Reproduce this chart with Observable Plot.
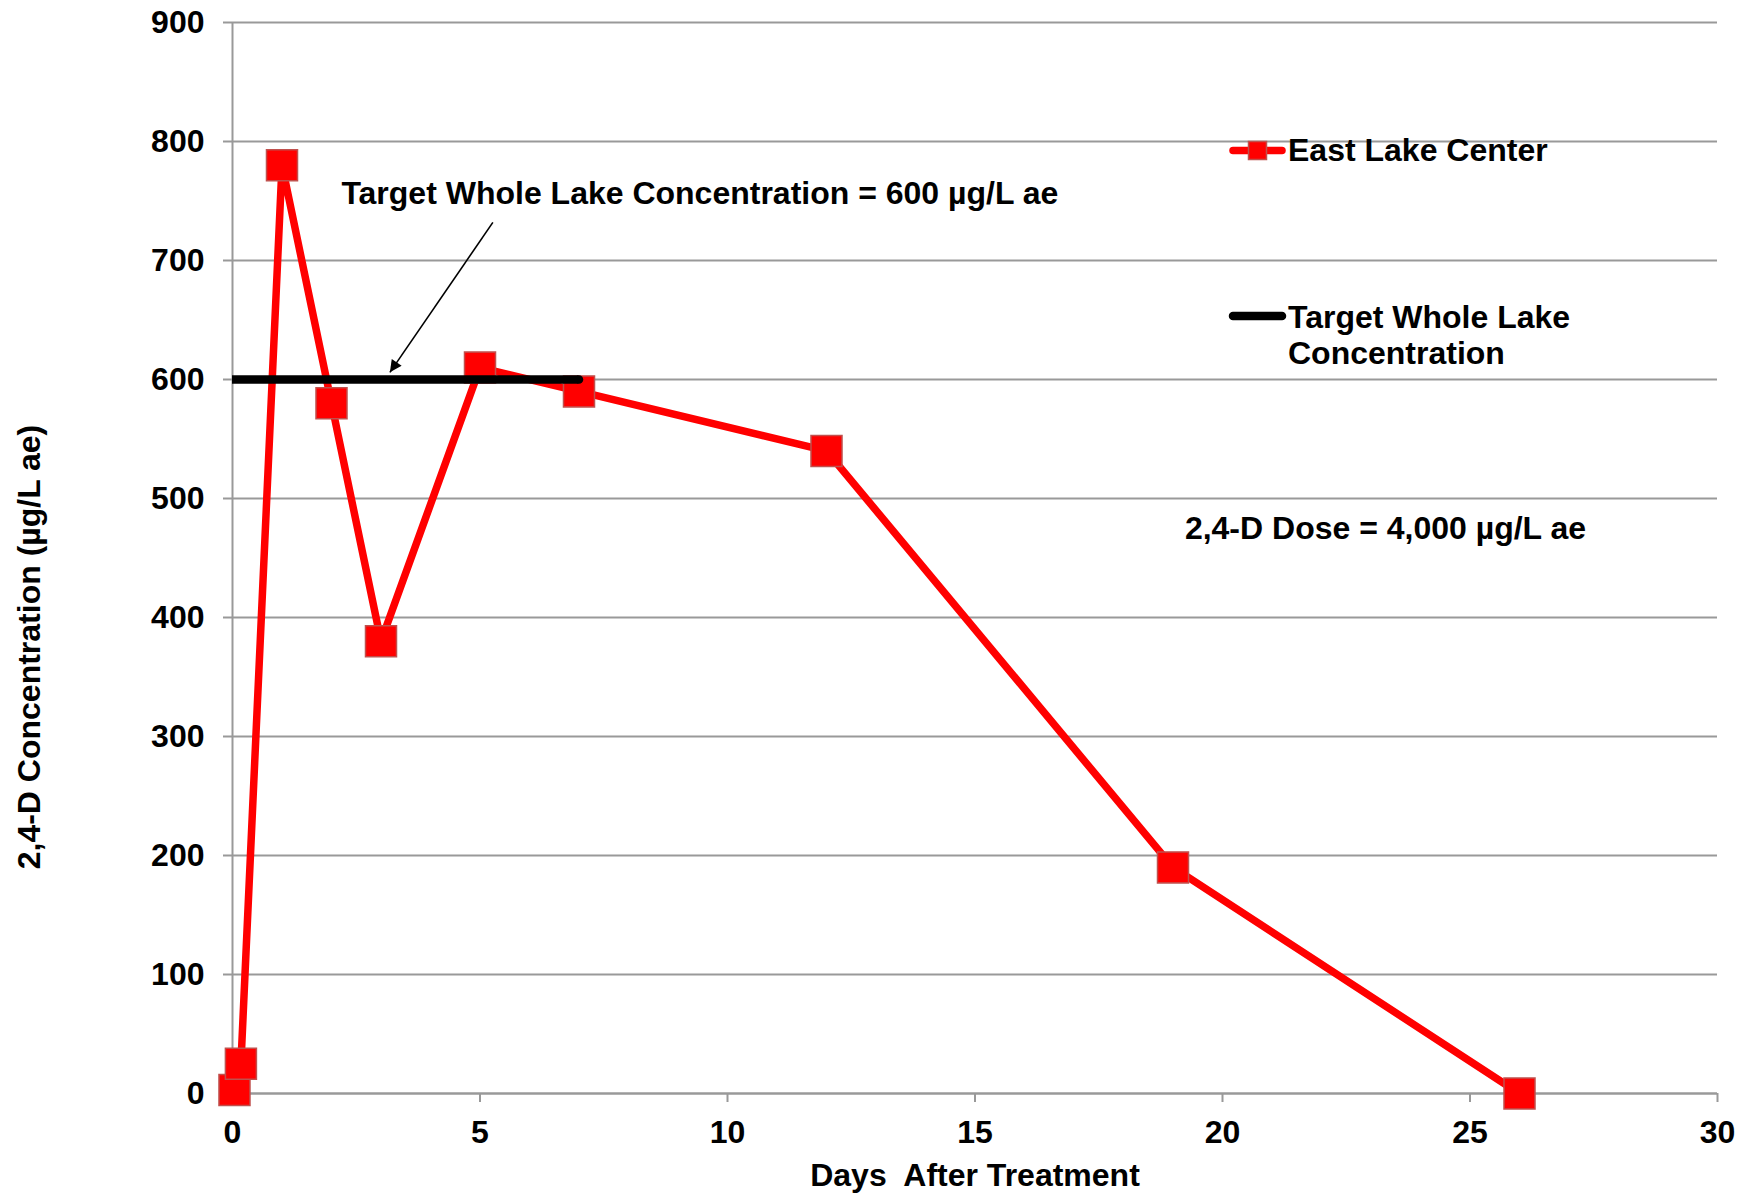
<!DOCTYPE html>
<html>
<head>
<meta charset="utf-8">
<script src="https://cdn.jsdelivr.net/npm/d3@7"></script>
<script src="https://cdn.jsdelivr.net/npm/@observablehq/plot@0.6"></script>
<style>
html, body { margin: 0; padding: 0; background: #ffffff; }
#chart { position: relative; width: 1752px; height: 1198px; }
</style>
</head>
<body>
<div id="chart"></div>
<script>
// ---- data ----
const days = [0.04, 0.17, 1, 2, 3, 5, 7, 12, 19, 26];
const concentration = [3, 25, 780, 580, 380, 610, 590, 540, 190, 0];
const targetDays = [0, 7];
const targetValue = 600;
const xTicks = [0, 5, 10, 15, 20, 25, 30];
const yTicks = [0, 100, 200, 300, 400, 500, 600, 700, 800, 900];
const seriesNames = ["East Lake Center", "Target Whole Lake Concentration"];
const xLabel = "Days\u00a0 After Treatment";
const yLabel = "2,4-D Concentration (\u00b5g/L ae)";
const targetNote = "Target Whole Lake Concentration = 600 \u00b5g/L ae";
const doseNote = "2,4-D Dose = 4,000 \u00b5g/L ae";
// annotation anchors (data units)
const targetNoteAt = {x: 2.2, y: 756};
const doseNoteAt = {x: 19.24, y: 475};
const arrowFrom = {x: 5.26, y: 732};
const arrowTo = {x: 3.18, y: 606};

const series = days.map((d, i) => ({day: d, value: concentration[i]}));

const FONT = "'Liberation Sans', Arial, Helvetica, sans-serif";
const GRID = "#999999";
const RED = "#ff0000";

const plot = Plot.plot({
  width: 1752,
  height: 1198,
  marginLeft: 232,
  marginRight: 35,
  marginTop: 22,
  marginBottom: 105,
  style: {fontFamily: FONT, fontWeight: "bold", fontSize: "32px", color: "black", background: "white", overflow: "visible"},
  x: {domain: [0, 30], ticks: xTicks},
  y: {domain: [0, 900], ticks: yTicks},
  marks: [
    Plot.gridY(yTicks, {stroke: GRID, strokeOpacity: 1, strokeWidth: 2}),
    Plot.ruleX([0], {stroke: GRID, strokeWidth: 2}),
    Plot.ruleY([0], {stroke: GRID, strokeWidth: 2}),
    Plot.axisY({ticks: yTicks, tickSize: 9, tickPadding: 19, stroke: GRID, strokeWidth: 2, fill: "black", fontSize: 32, fontWeight: "bold", label: null}),
    Plot.axisX({ticks: xTicks, tickSize: 9, tickPadding: 18, stroke: GRID, strokeWidth: 2, fill: "black", fontSize: 32, fontWeight: "bold", label: null}),
    Plot.text([xLabel], {frameAnchor: "bottom", dy: 82, textAnchor: "middle", lineAnchor: "middle", fontSize: 32, fontWeight: "bold", fill: "black"}),
    Plot.text([yLabel], {frameAnchor: "left", dx: -203, dy: 89, rotate: -90, textAnchor: "middle", lineAnchor: "middle", fontSize: 32, fontWeight: "bold", fill: "black"}),
    Plot.line(series, {x: "day", y: "value", stroke: RED, strokeWidth: 7.5, strokeLinejoin: "round"}),
    Plot.dot(series, {x: "day", y: "value", symbol: "square", r: 17.5, fill: RED, stroke: "#c0504d", strokeWidth: 1.5}),
    Plot.ruleY([targetValue], {x1: targetDays[0], x2: targetDays[1], stroke: "black", strokeWidth: 8.5, strokeLinecap: "butt"}),
    Plot.dot([targetValue], {x: () => targetDays[1], y: d => d, r: 4.25, fill: "black", stroke: null}),
    Plot.text([targetNote], {x: () => targetNoteAt.x, y: () => targetNoteAt.y, textAnchor: "start", lineAnchor: "middle", fontSize: 32, fontWeight: "bold", fill: "black"}),
    Plot.link([arrowFrom], {x1: "x", y1: "y", x2: () => arrowTo.x, y2: () => arrowTo.y, stroke: "black", strokeWidth: 1.6}),
    Plot.text([doseNote], {x: () => doseNoteAt.x, y: () => doseNoteAt.y, textAnchor: "start", lineAnchor: "middle", fontSize: 32, fontWeight: "bold", fill: "black"})
  ]
});

document.getElementById("chart").appendChild(plot);

// filled arrowhead on the annotation link
const svg = d3.select(plot.tagName.toLowerCase() === "svg" ? plot : plot.querySelector("svg"));
const defs = svg.append("defs");
defs.append("marker")
  .attr("id", "arrowHead")
  .attr("viewBox", "0 0 10 10")
  .attr("refX", 10).attr("refY", 5)
  .attr("markerWidth", 16).attr("markerHeight", 12)
  .attr("markerUnits", "userSpaceOnUse")
  .attr("orient", "auto")
  .append("path").attr("d", "M0,0L10,5L0,10Z").attr("fill", "black");
svg.selectAll('g[aria-label="link"] path').attr("marker-end", "url(#arrowHead)");

// legend (inside plot area, top right)
const lg = svg.append("g").attr("class", "legend").attr("text-anchor", "start");
const lx1 = 1233, lx2 = 1282, tx = 1288;
// item 1
lg.append("line").attr("x1", lx1).attr("x2", lx2).attr("y1", 150.5).attr("y2", 150.5)
  .attr("stroke", RED).attr("stroke-width", 7.5).attr("stroke-linecap", "round");
lg.append("rect").attr("x", 1248.5).attr("y", 141.5).attr("width", 18).attr("height", 18)
  .attr("fill", RED).attr("stroke", "#c0504d").attr("stroke-width", 1.5);
lg.append("text").attr("x", tx).attr("y", 161).attr("fill", "black").attr("text-anchor", "start")
  .style("font-family", FONT).style("font-weight", "bold").style("font-size", "32px")
  .text(seriesNames[0]);
// item 2
lg.append("line").attr("x1", lx1).attr("x2", lx2).attr("y1", 316).attr("y2", 316)
  .attr("stroke", "black").attr("stroke-width", 8.5).attr("stroke-linecap", "round");
const t2 = lg.append("text").attr("fill", "black").attr("text-anchor", "start")
  .style("font-family", FONT).style("font-weight", "bold").style("font-size", "32px");
t2.append("tspan").attr("x", tx).attr("y", 328).text("Target Whole Lake");
t2.append("tspan").attr("x", tx).attr("y", 363.5).text("Concentration");
</script>
</body>
</html>
